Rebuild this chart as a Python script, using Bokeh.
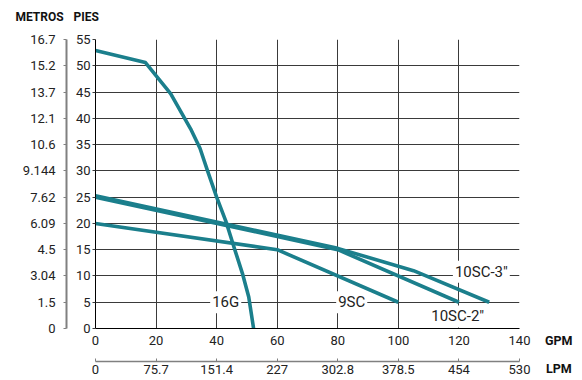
from bokeh.plotting import figure
from bokeh.models import LinearAxis, FixedTicker, Label, Range1d, Div
from bokeh.layouts import column, row
from bokeh.embed import file_html
from bokeh.resources import INLINE

# ---- data ----
gpm_ticks = [0, 20, 40, 60, 80, 100, 120, 140]
lpm_labels = ["0", "75.7", "151.4", "227", "302.8", "378.5", "454", "530"]
pies_ticks = [0, 5, 10, 15, 20, 25, 30, 35, 40, 45, 50, 55]
metros_labels = ["0", "1.5", "3.04", "4.5", "6.09", "7.62", "9.144", "10.6",
                 "12.1", "13.7", "15.2", "16.7"]

g16_gpm = [0, 16.5, 24.8, 31.4, 34.5, 37, 40, 43, 46, 48.5, 50.6, 52.2]
g16_ft = [52.9, 50.6, 44.7, 38, 34.3, 30, 25, 20.5, 15, 10.5, 6, 0]

sc9_gpm = [0, 60, 100]
sc9_ft = [20, 15, 5]

sc10_2_gpm = [0, 80, 120]
sc10_2_ft = [25, 15, 5]

sc10_3_gpm = [0, 80, 105, 130]
sc10_3_ft = [25.25, 15.25, 11, 5]

FONT = "Roboto"
TEAL = "#1b7f8c"
TXT = "#222222"
HEAD = "#111111"


def plain_fig(width, height, xr, yr, **kw):
    f = figure(width=width, height=height, output_backend="svg", toolbar_location=None,
               x_range=xr, y_range=yr, **kw)
    f.outline_line_color = None
    f.background_fill_color = "white"
    f.border_fill_color = "white"
    return f


# ---- header strip (METROS / PIES) ----
header = plain_fig(582, 30, Range1d(0, 582), Range1d(30, 0),
                   x_axis_location=None, y_axis_location=None, min_border=0)
header.grid.visible = False
for txt, x in (("METROS", 15), ("PIES", 73)):
    header.add_layout(Label(x=x, y=16.5, text=txt, text_font=FONT, text_font_size="12px",
                            text_font_style="bold", text_color=HEAD,
                            text_align="left", text_baseline="middle"))

# ---- main chart ----
p = plain_fig(535, 350, Range1d(0, 140), Range1d(0, 55),
              min_border_left=95, min_border_right=16,
              min_border_top=9, min_border_bottom=52)

for g in (p.xgrid, p.ygrid):
    g.grid_line_color = "#3a3a3a"
    g.grid_line_width = 1
p.xgrid.ticker = FixedTicker(ticks=gpm_ticks)
p.ygrid.ticker = FixedTicker(ticks=pies_ticks)


def style_axis(ax):
    ax.major_label_text_font = FONT
    ax.major_label_text_font_size = "13px"
    ax.major_label_text_color = TXT
    ax.minor_tick_line_color = None


# GPM axis (bottom, inner)
xa = p.xaxis[0]
xa.ticker = FixedTicker(ticks=gpm_ticks)
style_axis(xa)
xa.axis_line_color = "black"
xa.major_tick_out = 0
xa.major_tick_in = 0
xa.major_label_standoff = 7
xa.axis_label = " "
xa.axis_label_text_font_size = "4px"
xa.axis_label_standoff = 6

# LPM axis (bottom, outer)
lpm = LinearAxis(ticker=FixedTicker(ticks=gpm_ticks),
                 major_label_overrides={t: l for t, l in zip(gpm_ticks, lpm_labels)})
style_axis(lpm)
lpm.axis_line_color = "#808080"
lpm.axis_line_width = 1.5
lpm.major_tick_line_color = "#808080"
lpm.major_tick_out = 0
lpm.major_tick_in = 3
lpm.major_label_standoff = 3
p.add_layout(lpm, "below")

# PIES axis (left, inner)
ya = p.yaxis[0]
ya.ticker = FixedTicker(ticks=pies_ticks)
style_axis(ya)
ya.axis_line_color = "black"
ya.major_tick_line_color = "#3a3a3a"
ya.major_tick_out = 3
ya.major_tick_in = 0
ya.major_label_standoff = 2
ya.axis_label = " "
ya.axis_label_text_font_size = "3px"
ya.axis_label_standoff = 0

# METROS axis (left, outer)
met = LinearAxis(ticker=FixedTicker(ticks=pies_ticks),
                 major_label_overrides={t: l for t, l in zip(pies_ticks, metros_labels)})
style_axis(met)
met.axis_line_color = "#808080"
met.axis_line_width = 2
met.major_tick_line_color = "#808080"
met.major_tick_out = 3
met.major_tick_in = 0
met.major_label_standoff = 8
p.add_layout(met, "left")

# curves
for xs, ys in ((g16_gpm, g16_ft), (sc9_gpm, sc9_ft),
               (sc10_2_gpm, sc10_2_ft), (sc10_3_gpm, sc10_3_ft)):
    p.line(xs, ys, line_color=TEAL, line_width=3.6, line_join="round", line_cap="butt")


def curve_label(txt, x, y):
    p.add_layout(Label(x=x, y=y, text=txt, text_font=FONT, text_font_size="15px",
                       text_color=TXT, text_align="center", text_baseline="middle",
                       background_fill_color="white", padding=2))


curve_label("16G", 43, 5)
curve_label("9SC", 84.6, 5)
curve_label("10SC-2\"", 119.6, 2.3)
curve_label("10SC-3\"", 127.4, 10.8)

# ---- right strip: unit names ----
span = ("position:absolute;font-family:Roboto;font-weight:bold;font-size:12.5px;"
        "line-height:14px;color:#111111;white-space:nowrap;")
side = Div(text=(f'<span style="{span}left:5px;top:299px;">GPM</span>'
                 f'<span style="{span}left:6px;top:327px;">LPM</span>'),
           width=47, height=350, styles={"position": "relative", "overflow": "visible"})

layout = column(header, row(p, side, spacing=0), spacing=0)
open("out.html", "w").write(file_html(layout, INLINE))
